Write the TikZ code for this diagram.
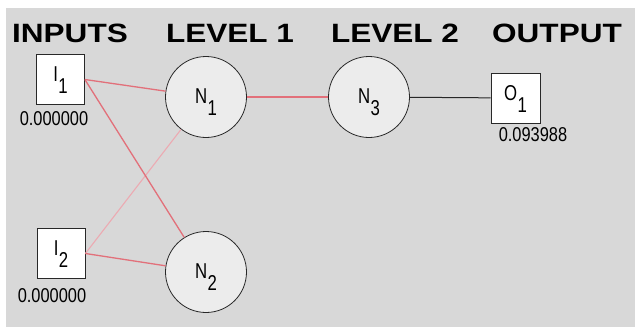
\documentclass[tikz,border=0pt]{standalone}
\usepackage{fontspec}
\setmainfont{Liberation Sans}
\definecolor{bg}{RGB}{216,216,216}
\definecolor{cfill}{RGB}{236,236,236}
\definecolor{linkred}{RGB}{226,112,122}
\definecolor{linkpink}{RGB}{236,170,178}
\definecolor{edge}{RGB}{40,40,40}
\newcommand{\sublbl}[2]{\scalebox{0.78}[1]{\fontsize{21.5}{21.5}\selectfont #1\kern0.5pt\raisebox{-12pt}{#2}}}
\newcommand{\valtxt}[1]{\scalebox{0.82}[1]{\fontsize{20}{20}\selectfont #1}}
\newcommand{\hdrtxt}[1]{\scalebox{1.19}[1]{\bfseries\fontsize{26.5}{26.5}\selectfont #1}}
\begin{document}
\begin{tikzpicture}[x=1pt,y=-1pt,
  inbox/.style={draw=edge, line width=0.8pt, fill=white, minimum width=48pt, minimum height=50pt, inner sep=0pt, text height=16.4pt, text depth=12pt},
  neuron/.style={circle, draw=edge, line width=0.8pt, fill=cfill, minimum size=81pt, inner sep=0pt, text height=24.4pt, text depth=12pt},
  header/.style={anchor=base, inner sep=0pt},
  valnode/.style={inner sep=0pt},
  redlink/.style={draw=linkred, line width=1.3pt},
  pinklink/.style={draw=linkpink, line width=1.1pt},
  blacklink/.style={draw=edge, line width=1pt}]
\useasboundingbox (0,0) rectangle (635,327);
\fill[white] (0,0) rectangle (635,327);
\fill[bg] (6,8) rectangle (635,327);

\node[header] (hin) at (70,42) {\hdrtxt{INPUTS}};
\node[header] (hl1) at (230,42) {\hdrtxt{LEVEL 1}};
\node[header] (hl2) at (395,42) {\hdrtxt{LEVEL 2}};
\node[header] (hout) at (557,42) {\hdrtxt{OUTPUT}};

\node[inbox] (I1) at (60.5,79.5) {\sublbl{I}{1}};
\node[inbox] (I2) at (61,253.5) {\sublbl{I}{2}};
\node[neuron] (N1) at (206,97) {\sublbl{N}{1}};
\node[neuron] (N2) at (206,272) {\sublbl{N}{2}};
\node[neuron] (N3) at (369,97) {\sublbl{N}{3}};
\node[inbox, minimum width=49pt, minimum height=50pt] (O1) at (515.5,98) {\sublbl{O}{1}};

\node[valnode] (v1) at (54,119) {\valtxt{0.000000}};
\node[valnode] (v2) at (52,296) {\valtxt{0.000000}};
\node[valnode] (v3) at (533,135) {\valtxt{0.093988}};

\draw[pinklink] (I2.east) -- (N1);
\draw[redlink] (I1.east) -- (N1);
\draw[redlink] (I1.east) -- (N2);
\draw[redlink] (I2.east) -- (N2);
\draw[redlink] (N1) -- (N3);
\draw[blacklink] (N3) -- (O1);
\end{tikzpicture}
\end{document}
